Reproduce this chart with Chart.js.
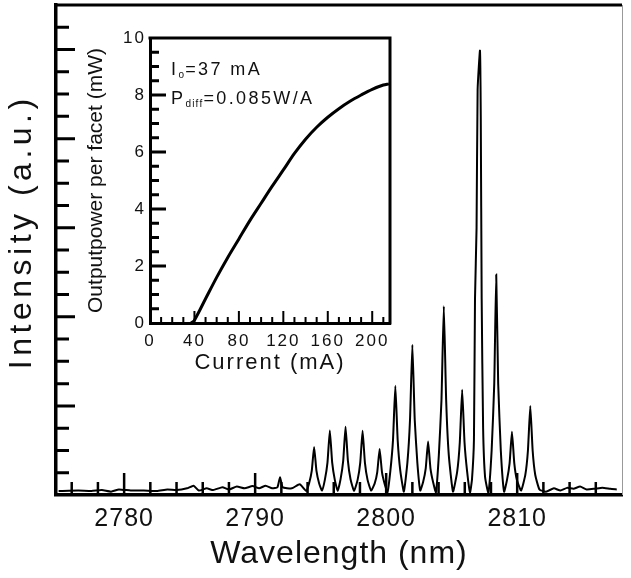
<!DOCTYPE html>
<html>
<head>
<meta charset="utf-8">
<script src="https://cdn.jsdelivr.net/npm/chart.js@4.4.1/dist/chart.umd.min.js"></script>
<style>
  html, body { margin: 0; padding: 0; background: #fff; }
  #wrap { position: relative; width: 631px; height: 578px; overflow: hidden; }
  #spectrum { position: absolute; left: 0; top: 0; }
  #inset { position: absolute; left: 80px; top: 20px; }
  .note { position: absolute; font-family: "Liberation Sans", Arial, sans-serif; font-size: 18px;
          letter-spacing: 2.4px; color: #111; white-space: nowrap; line-height: 1; }
  .note sub { font-size: 10px; vertical-align: -3px; letter-spacing: 1.2px; }
</style>
</head>
<body>
<div id="wrap">
  <canvas id="spectrum" width="631" height="578"></canvas>
  <canvas id="inset" width="330" height="365"></canvas>
  <div class="note" style="left:171px; top:60px">I<sub>o</sub>=37 mA</div>
  <div class="note" style="left:171px; top:89px">P<sub>diff</sub>=0.085W/A</div>
</div>
<script>
// emission spectrum
const wavelengthNm = [
  2775.0, 2776.5, 2777.5, 2778.3, 2779.0, 2779.6, 2780.5, 2781.5, 2782.5, 2783.3,
  2784.0, 2784.8, 2785.3, 2785.7, 2786.3, 2786.8, 2787.5, 2788.0, 2788.6, 2789.2,
  2789.8, 2790.3, 2790.8, 2791.3, 2791.7, 2791.9, 2792.1, 2792.8, 2793.4, 2793.9,
  2794.12, 2794.32, 2794.5, 2794.68, 2794.88, 2795.1,
  2795.32, 2795.52, 2795.7, 2795.88, 2796.08, 2796.3,
  2796.52, 2796.72, 2796.9, 2797.08, 2797.28, 2797.55,
  2797.82, 2798.02, 2798.2, 2798.38, 2798.58, 2798.85,
  2799.12, 2799.32, 2799.5, 2799.68, 2799.88, 2800.1,
  2800.32, 2800.52, 2800.7, 2800.88, 2801.08, 2801.35,
  2801.62, 2801.82, 2802.0, 2802.18, 2802.38, 2802.6,
  2802.82, 2803.02, 2803.2, 2803.38, 2803.58, 2803.8,
  2804.02, 2804.22, 2804.4, 2804.58, 2804.78, 2805.1,
  2805.42, 2805.62, 2805.8, 2805.98, 2806.18, 2806.4,
  2806.55, 2806.7, 2806.78, 2806.9, 2806.98, 2807.16, 2807.22, 2807.29, 2807.4, 2807.55, 2807.8,
  2808.05, 2808.25, 2808.4, 2808.55, 2808.75, 2809.0,
  2809.22, 2809.42, 2809.6, 2809.78, 2809.98, 2810.3,
  2810.62, 2810.82, 2811.0, 2811.18, 2811.38, 2811.7,
  2812.2, 2812.8, 2813.3, 2813.8, 2814.3, 2814.8, 2815.3, 2815.9, 2816.5, 2817.1, 2817.6
];
const intensityAu = [
  0.18, 0.2, 0.18, 0.22, 0.15, 0.25, 0.2, 0.2, 0.18, 0.25,
  0.22, 0.3, 0.42, 0.2, 0.3, 0.22, 0.35, 0.25, 0.38, 0.3,
  0.4, 0.3, 0.42, 0.3, 0.35, 0.8, 0.35, 0.3, 0.48, 0.18,
  0.53, 1.08, 2.16, 1.08, 0.53, 0.2,
  0.68, 1.45, 2.9, 1.45, 0.68, 0.18,
  0.71, 1.53, 3.06, 1.53, 0.71, 0.18,
  0.68, 1.44, 2.88, 1.44, 0.68, 0.2,
  0.51, 1.03, 2.07, 1.03, 0.51, 0.12,
  1.08, 2.45, 4.9, 2.45, 1.08, 0.15,
  1.45, 3.38, 6.75, 3.38, 1.45, 0.2,
  0.58, 1.2, 2.4, 1.2, 0.58, 0.12,
  1.79, 4.24, 8.47, 4.24, 1.79, 0.15,
  1.05, 2.37, 4.73, 2.37, 1.05, 0.12,
  0.7, 2.5, 8.8, 12.0, 18.2, 19.95, 17.0, 8.8, 3.0, 0.8, 0.1,
  2.0, 5.0, 9.9, 5.0, 2.0, 0.15,
  0.67, 1.42, 2.84, 1.42, 0.67, 0.2,
  0.9, 2.0, 4.0, 2.0, 0.9, 0.25,
  0.15, 0.3, 0.2, 0.32, 0.28, 0.38, 0.25, 0.28, 0.33, 0.28, 0.25
];
const wavelengthTicks = [2780, 2790, 2800, 2810];
const intensityTicks = [4, 8, 12, 16, 20];

// inset: output power vs current
const currentMa = [37, 40, 50, 60, 70, 80, 90, 100, 110, 120, 130, 140, 150, 160, 170, 180, 190, 200, 210, 215];
const powerMw = [0, 0.1, 0.85, 1.6, 2.3, 2.95, 3.6, 4.2, 4.8, 5.37, 5.95, 6.45, 6.87, 7.22, 7.52, 7.78, 8.0, 8.2, 8.35, 8.39];
const currentTicks = [0, 40, 80, 120, 160, 200];
const powerTicks = [0, 2, 4, 6, 8, 10];

const FONT = '"Liberation Sans", Arial, sans-serif';

// the figure has its tick marks inside the box, chart.js puts them outside
const innerTicks = {
  id: 'innerTicks',
  afterDraw(chart, args, o) {
    const { ctx, chartArea: a } = chart;
    const x = chart.scales.x, y = chart.scales.y;
    ctx.save();
    ctx.strokeStyle = '#000';
    ctx.lineWidth = o.xWidth;
    ctx.beginPath();
    x.ticks.forEach(t => {
      if (t.value <= x.min || t.value >= x.max) return;
      const px = x.getPixelForValue(t.value);
      const len = o.xMajor.includes(t.value) ? o.xLong : o.xShort;
      ctx.moveTo(px, a.bottom);
      ctx.lineTo(px, a.bottom - len);
    });
    ctx.stroke();
    ctx.lineWidth = o.yWidth;
    ctx.beginPath();
    y.ticks.forEach(t => {
      if (t.value <= y.min || t.value >= y.max) return;
      const py = y.getPixelForValue(t.value);
      const len = o.yMajor.includes(t.value) ? o.yLong : o.yShort;
      ctx.moveTo(a.left, py);
      ctx.lineTo(a.left + len, py);
    });
    ctx.stroke();
    ctx.restore();
  }
};

// top edge (and right edge for the inset)
const frame = {
  id: 'frame',
  afterDraw(chart, args, o) {
    const { ctx, chartArea: a } = chart;
    ctx.save();
    ctx.strokeStyle = '#000';
    ctx.lineWidth = o.width;
    ctx.beginPath();
    ctx.moveTo(a.left - 1.5, a.top);
    ctx.lineTo(a.right, a.top);
    if (o.closed) ctx.lineTo(a.right, a.bottom + 1.5);
    ctx.stroke();
    if (o.edge) {
      ctx.strokeStyle = o.edge;
      ctx.lineWidth = 1;
      ctx.beginPath();
      ctx.moveTo(a.right + 0.5, a.top);
      ctx.lineTo(a.right + 0.5, a.bottom);
      ctx.stroke();
    }
    ctx.restore();
  }
};

// layers with z <= 0 are drawn before the datasets, z > 0 after them
const spacing = {
  id: 'spacing',
  beforeDraw(chart, args, o) { chart.ctx.letterSpacing = o.before; },
  afterDatasetsDraw(chart, args, o) { chart.ctx.letterSpacing = o.after; }
};

new Chart(document.getElementById('spectrum'), {
  type: 'line',
  data: {
    datasets: [{
      data: wavelengthNm.map((w, i) => ({ x: w, y: intensityAu[i] })),
      borderColor: '#000',
      borderWidth: 2,
      pointRadius: 0,
      tension: 0.15,
      fill: false
    }]
  },
  options: {
    responsive: false,
    animation: false,
    devicePixelRatio: 1,
    layout: { padding: { top: 5, right: 1, left: 0, bottom: 0 } },
    plugins: {
      legend: { display: false },
      tooltip: { enabled: false },
      innerTicks: { xWidth: 2.5, xShort: 13, xLong: 22, xMajor: wavelengthTicks,
                    yWidth: 3, yShort: 13, yLong: 19, yMajor: intensityTicks },
      frame: { width: 3, closed: false, edge: '#999' },
      spacing: { before: '4.5px', after: '1px' }
    },
    scales: {
      x: {
        type: 'linear',
        min: 2774.8,
        max: 2818,
        afterFit: s => { s.height = 83; },
        grid: { display: false, drawTicks: false, z: 1 },
        border: { color: '#000', width: 3.5, z: 2 },
        ticks: {
          z: 1, stepSize: 2, includeBounds: false, autoSkip: false, maxRotation: 0,
          padding: 9, color: '#111', font: { family: FONT, size: 25 },
          callback: v => wavelengthTicks.includes(v) ? v : ''
        },
        title: { display: true, text: 'Wavelength (nm)', color: '#111',
                 font: { family: FONT, size: 32 }, padding: { top: 0, bottom: 5 } }
      },
      y: {
        min: 0,
        max: 22,
        afterFit: s => { s.width = 56; },
        grid: { display: false, drawTicks: false },
        border: { color: '#000', width: 3.5 },
        ticks: { stepSize: 1, includeBounds: false, display: false },
        // leading em space lifts the label a little, as in the figure
        title: { display: true, text: '\u2003Intensity (a.u.)', color: '#111',
                 font: { family: FONT, size: 32 }, padding: { top: 3, bottom: 0 } }
      }
    }
  },
  plugins: [innerTicks, frame, spacing]
});

new Chart(document.getElementById('inset'), {
  type: 'line',
  data: {
    datasets: [{
      data: currentMa.map((c, i) => ({ x: c, y: powerMw[i] })),
      borderColor: '#000',
      borderWidth: 3,
      pointRadius: 0,
      tension: 0.3,
      fill: false
    }]
  },
  options: {
    responsive: false,
    animation: false,
    devicePixelRatio: 1,
    layout: { padding: { top: 18, right: 20, left: 0, bottom: 0 } },
    plugins: {
      legend: { display: false },
      tooltip: { enabled: false },
      innerTicks: { xWidth: 2, xShort: 6, xLong: 12, xMajor: currentTicks,
                    yWidth: 3, yShort: 9, yLong: 16, yMajor: powerTicks },
      frame: { width: 3, closed: true },
      spacing: { before: '0px', after: '2px' }
    },
    scales: {
      x: {
        type: 'linear',
        min: 0,
        max: 216,
        afterFit: s => { s.height = 62; },
        grid: { display: false, drawTicks: false, z: 1 },
        border: { color: '#000', width: 3, z: 2 },
        ticks: {
          z: 1, stepSize: 10, includeBounds: false, autoSkip: false, maxRotation: 0,
          padding: 8, color: '#111', font: { family: FONT, size: 17 },
          callback: v => currentTicks.includes(v) ? v : ''
        },
        title: { display: true, text: 'Current (mA)', color: '#111',
                 font: { family: FONT, size: 22 }, padding: { top: 0, bottom: 9 } }
      },
      y: {
        min: 0,
        max: 10,
        afterFit: s => { s.width = 70; },
        grid: { display: false, drawTicks: false },
        border: { color: '#000', width: 3 },
        ticks: {
          z: 1, stepSize: 0.5, includeBounds: false, autoSkip: false,
          padding: 4, color: '#111', font: { family: FONT, size: 17 },
          callback: v => powerTicks.includes(v) ? v : ''
        },
        title: { display: true, text: 'Outputpower per facet (mW)', color: '#111',
                 font: { family: FONT, size: 21 }, padding: { top: 4, bottom: 0 } }
      }
    }
  },
  plugins: [innerTicks, frame, spacing]
});
</script>
</body>
</html>
